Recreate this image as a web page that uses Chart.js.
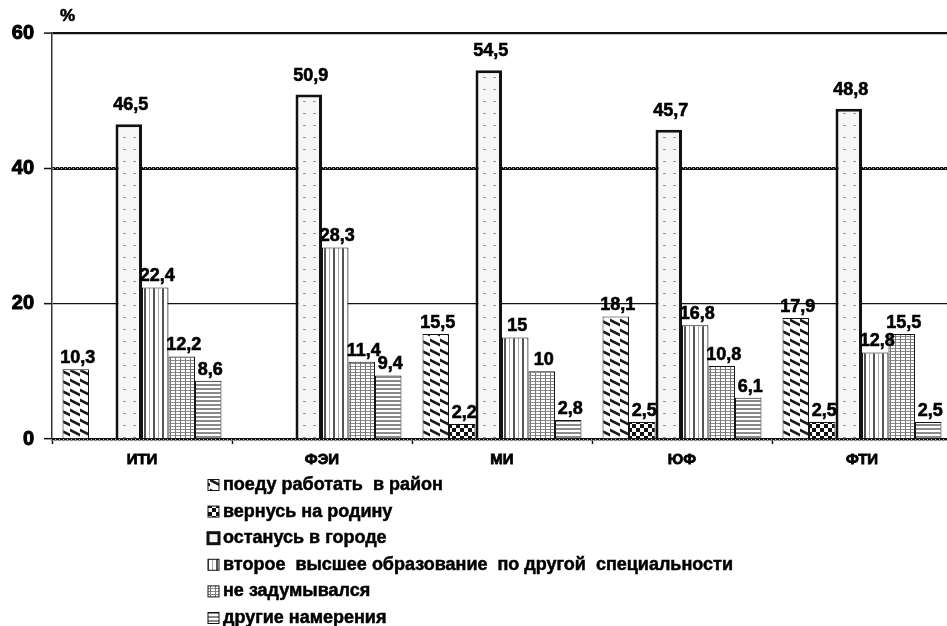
<!DOCTYPE html>
<html>
<head>
<meta charset="utf-8">
<script src="https://cdn.jsdelivr.net/npm/chart.js@4/dist/chart.umd.min.js"></script>
<style>
html,body{margin:0;padding:0;background:#fff;overflow:hidden;width:947px;height:626px;}
#wrap{position:absolute;left:0;top:0;width:960px;height:626px;}
</style>
</head>
<body>
<div id="wrap"><canvas id="c"></canvas></div>
<script>
// ---- data ----
const categories = ['ИТИ', 'ФЭИ', 'МИ', 'ЮФ', 'ФТИ'];
const seriesNames = [
  'поеду работать  в район',
  'вернусь на родину',
  'останусь в городе',
  'второе  высшее образование  по другой  специальности',
  'не задумывался',
  'другие намерения'
];
const goToDistrict   = [10.3, null, 15.5, 18.1, 17.9];
const returnHome     = [null, null, 2.2, 2.5, 2.5];
const stayInCity     = [46.5, 50.9, 54.5, 45.7, 48.8];
const secondDegree   = [22.4, 28.3, 15, 16.8, 12.8];
const notThought     = [12.2, 11.4, 10, 10.8, 15.5];
const otherPlans     = [8.6, 9.4, 2.8, 6.1, 2.5];
const yTicks = [0, 20, 40, 60];

// ---- patterns ----
function tile(w, h, draw) {
  const cv = document.createElement('canvas');
  cv.width = w; cv.height = h;
  const g = cv.getContext('2d');
  draw(g, w, h);
  return g.createPattern(cv, 'repeat');
}
const pDiag = tile(10, 10, (g, w, h) => {
  g.fillStyle = '#fff'; g.fillRect(0, 0, w, h);
  g.strokeStyle = '#1a1a1a'; g.lineWidth = 2.6;
  g.beginPath();
  g.moveTo(-2, -1); g.lineTo(12, 6);
  g.moveTo(-12, 4); g.lineTo(2, 11);
  g.moveTo(-2, 9); g.lineTo(12, 16);
  g.stroke();
});
const pCheck = tile(8, 8, (g, w, h) => {
  g.fillStyle = '#fff'; g.fillRect(0, 0, w, h);
  g.fillStyle = '#111'; g.fillRect(0, 0, 4, 4); g.fillRect(4, 4, 4, 4);
});
const pDots = tile(10, 12, (g, w, h) => {
  g.fillStyle = '#f6f6f6'; g.fillRect(0, 0, w, h);
  g.fillStyle = '#999'; g.fillRect(3, 5, 3, 1);
});
const pVert = tile(9, 2, (g, w, h) => {
  g.fillStyle = '#fff'; g.fillRect(0, 0, w, h);
  g.fillStyle = '#555'; g.fillRect(0, 0, 2, h);
  g.fillStyle = '#aaa'; g.fillRect(5, 0, 1, h);
});
const pGrid = tile(5, 3, (g, w, h) => {
  g.fillStyle = '#fff'; g.fillRect(0, 0, w, h);
  g.fillStyle = '#888'; g.fillRect(0, 0, w, 1);
  g.fillStyle = '#777'; g.fillRect(0, 0, 1, h);
});
const pHoriz = tile(2, 4, (g, w, h) => {
  g.fillStyle = '#fff'; g.fillRect(0, 0, w, h);
  g.fillStyle = '#8a8a8a'; g.fillRect(0, 0, w, 2);
});
const pWavy = tile(4, 4, (g, w, h) => {
  g.fillStyle = '#111'; g.fillRect(0, 0, w, h);
  g.fillStyle = '#bbb'; g.fillRect(1, 0, 1, 1); g.fillRect(3, 3, 1, 1);
});

const FONT = "'Liberation Sans', Arial, sans-serif";

const seriesValues = [goToDistrict, returnHome, stayInCity, secondDegree, notThought, otherPlans];
const fills = [pDiag, pCheck, pDots, pVert, pGrid, pHoriz];
const borderW = [1, 1, 3, 1, 1, 1];
const datasets = seriesValues.map((vals, i) => ({
  label: seriesNames[i],
  data: vals,
  backgroundColor: fills[i],
  borderColor: '#111',
  borderWidth: borderW[i],
  borderSkipped: 'bottom'
}));

function heavyText(ctx, t, x, y) {
  ctx.fillText(t, x, y);
  ctx.strokeText(t, x, y);
}

// value labels plugin
const valueLabels = {
  id: 'valueLabels',
  afterDatasetsDraw(chart) {
    const ctx = chart.ctx;
    ctx.save();
    ctx.font = 'bold 18px ' + FONT;
    ctx.fillStyle = '#000';
    ctx.strokeStyle = '#000';
    ctx.lineWidth = 0.6;
    ctx.textAlign = 'center';
    ctx.textBaseline = 'middle';
    chart.data.datasets.forEach((ds, di) => {
      const meta = chart.getDatasetMeta(di);
      meta.data.forEach((bar, i) => {
        const v = ds.data[i];
        if (v === null || v === undefined) return;
        const off = di === 2 ? 19 : 11;
        heavyText(ctx, String(v).replace('.', ','), bar.x + 2, bar.y - off);
      });
    });
    ctx.restore();
  }
};

// "%" unit label and vertical legend
const extras = {
  id: 'extras',
  afterDraw(chart) {
    const ctx = chart.ctx;
    const ca = chart.chartArea;
    ctx.save();
    ctx.fillStyle = '#000';
    ctx.strokeStyle = '#000';
    ctx.lineWidth = 0.6;
    ctx.font = 'bold 17px ' + FONT;
    ctx.textAlign = 'left';
    ctx.textBaseline = 'middle';
    heavyText(ctx, '%', ca.left + 8, ca.top - 17);

    const x0 = 208, y0 = 485, step = 26.6, box = 11;
    ctx.font = 'bold 18px ' + FONT;
    chart.data.datasets.forEach((ds, i) => {
      const y = y0 + i * step;
      ctx.fillStyle = ds.backgroundColor;
      ctx.fillRect(x0, y - box / 2, box, box);
      ctx.strokeStyle = '#111';
      ctx.lineWidth = i === 2 ? 3 : 1;
      ctx.strokeRect(x0, y - box / 2, box, box);
      ctx.fillStyle = '#000';
      ctx.strokeStyle = '#000';
      ctx.lineWidth = 0.5;
      heavyText(ctx, ds.label, x0 + 15, y);
    });
    ctx.restore();
  }
};

new Chart(document.getElementById('c'), {
  type: 'bar',
  data: { labels: categories, datasets },
  plugins: [valueLabels, extras],
  options: {
    responsive: true,
    maintainAspectRatio: false,
    animation: false,
    events: [],
    layout: { padding: { top: 33, right: 8, bottom: 152, left: 0 } },
    datasets: { bar: { barPercentage: 1.0, categoryPercentage: 0.883 } },
    plugins: { legend: { display: false }, tooltip: { enabled: false } },
    scales: {
      x: {
        afterFit: s => { s.height = 35; },
        grid: { drawOnChartArea: false, offset: true, tickLength: 5, tickColor: '#111', tickWidth: 1.5 },
        border: { display: true, color: pWavy, width: 2.5 },
        ticks: { color: '#000', font: { family: FONT, size: 15, weight: 'bold' }, padding: 7,
                 textStrokeColor: '#000', textStrokeWidth: 0.8 }
      },
      y: {
        min: 0, max: 60,
        afterFit: s => { s.width = 52; },
        afterBuildTicks: s => { s.ticks = yTicks.map(v => ({ value: v })); },
        grid: {
          color: c => {
            const v = c.tick && c.tick.value;
            if (v === 40) return pWavy;
            if (v === 0) return 'rgba(0,0,0,0)';
            return '#111';
          },
          lineWidth: c => {
            const v = c.tick && c.tick.value;
            if (v === 40) return 3;
            if (v === 60) return 2.2;
            return 1.3;
          },
          tickLength: 8, tickColor: '#111', tickWidth: 1.5
        },
        border: { display: true, color: '#333', width: 1.5 },
        ticks: { color: '#000', font: { family: FONT, size: 20, weight: 'bold' }, padding: 10,
                 textStrokeColor: '#000', textStrokeWidth: 1 }
      }
    }
  }
});
</script>
</body>
</html>
